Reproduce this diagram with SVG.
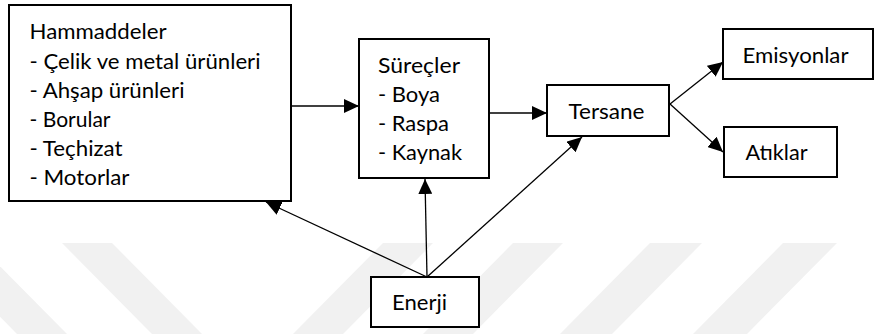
<svg xmlns="http://www.w3.org/2000/svg" width="874" height="334" viewBox="0 0 874 334">
  <style>
    .box { fill: #ffffff; stroke: #000000; stroke-width: 2; }
    .lbl { font-family: Lato, "Open Sans", "Liberation Sans", sans-serif; font-size: 21px; fill: #000000; }
    .conn { stroke: #000000; stroke-width: 1.3; fill: none; marker-end: url(#arrow); }
    .band { fill: #f1f1f1; }
  </style>
  <defs>
    <marker id="arrow" markerUnits="userSpaceOnUse" markerWidth="15" markerHeight="14" refX="15" refY="7" orient="auto">
      <path d="M0,0 L15,7 L0,14 Z" fill="#000000"/>
    </marker>
  </defs>
  <rect x="0" y="0" width="874" height="334" fill="#ffffff"/>
  <g id="watermark">
    <polygon class="band" points="-73,243 -23,243 67,334 17,334"/>
    <polygon class="band" points="62,243 112,243 202,334 152,334"/>
    <polygon class="band" points="383,243 433,243 343,334 293,334"/>
    <polygon class="band" points="513,243 563,243 473,334 423,334"/>
    <polygon class="band" points="650,243 702,243 612,334 560,334"/>
    <polygon class="band" points="783,243 837,243 747,334 693,334"/>
  </g>
  <g id="hammaddeler">
    <rect class="box" x="9" y="5" width="282" height="196"/>
    <text class="lbl" x="29.5" y="39.3" textLength="137" lengthAdjust="spacingAndGlyphs">Hammaddeler</text>
    <text class="lbl" x="29.5" y="68.5" textLength="231" lengthAdjust="spacingAndGlyphs">- Çelik ve metal ürünleri</text>
    <text class="lbl" x="29.5" y="97.7" textLength="155" lengthAdjust="spacingAndGlyphs">- Ahşap ürünleri</text>
    <text class="lbl" x="29.5" y="126.9" textLength="81" lengthAdjust="spacingAndGlyphs">- Borular</text>
    <text class="lbl" x="29.5" y="156.1" textLength="93" lengthAdjust="spacingAndGlyphs">- Teçhizat</text>
    <text class="lbl" x="29.5" y="185.3" textLength="100" lengthAdjust="spacingAndGlyphs">- Motorlar</text>
  </g>
  <g id="surecler">
    <rect class="box" x="359" y="39" width="130" height="139"/>
    <text class="lbl" x="378" y="73.3" textLength="82" lengthAdjust="spacingAndGlyphs">Süreçler</text>
    <text class="lbl" x="378" y="102.2" textLength="62" lengthAdjust="spacingAndGlyphs">- Boya</text>
    <text class="lbl" x="378" y="131.1" textLength="71" lengthAdjust="spacingAndGlyphs">- Raspa</text>
    <text class="lbl" x="378" y="160" textLength="84" lengthAdjust="spacingAndGlyphs">- Kaynak</text>
  </g>
  <g id="tersane">
    <rect class="box" x="547" y="85" width="122" height="51"/>
    <text class="lbl" x="568.5" y="119.3" textLength="76" lengthAdjust="spacingAndGlyphs">Tersane</text>
  </g>
  <g id="emisyonlar">
    <rect class="box" x="723" y="29" width="150" height="50"/>
    <text class="lbl" x="742.5" y="63.3" textLength="106" lengthAdjust="spacingAndGlyphs">Emisyonlar</text>
  </g>
  <g id="atiklar">
    <rect class="box" x="724" y="127" width="113" height="50"/>
    <text class="lbl" x="745.5" y="160" textLength="62" lengthAdjust="spacingAndGlyphs">Atıklar</text>
  </g>
  <g id="enerji">
    <rect class="box" x="371" y="277" width="108" height="50"/>
    <text class="lbl" x="392" y="310" textLength="55" lengthAdjust="spacingAndGlyphs">Enerji</text>
  </g>
  <g id="connectors">
    <line class="conn" x1="292" y1="106" x2="359" y2="106"/>
    <line class="conn" x1="490" y1="113" x2="547" y2="113"/>
    <line class="conn" x1="670" y1="104" x2="723" y2="62"/>
    <line class="conn" x1="670" y1="104" x2="723" y2="152"/>
    <line class="conn" x1="427" y1="277" x2="266" y2="202"/>
    <line class="conn" x1="427" y1="277" x2="425" y2="179"/>
    <line class="conn" x1="427" y1="277" x2="582" y2="137"/>
  </g>
</svg>
